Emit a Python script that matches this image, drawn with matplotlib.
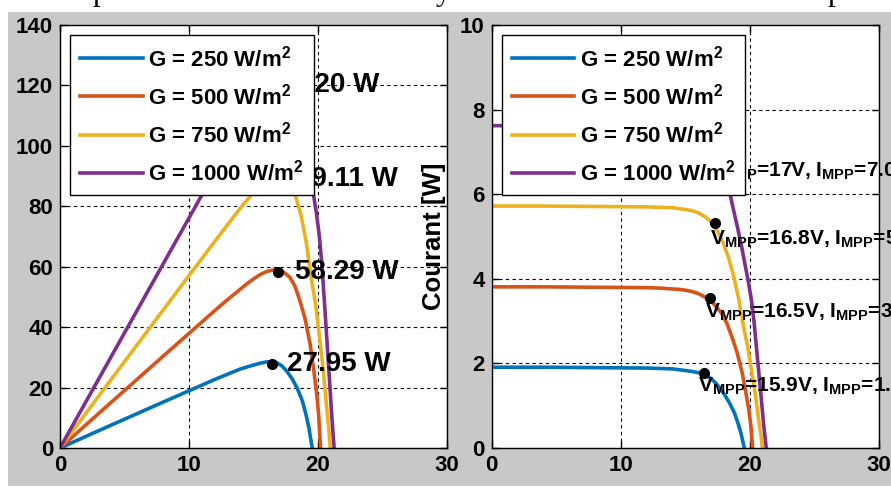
import matplotlib
matplotlib.use("Agg")
import matplotlib.pyplot as plt
from matplotlib.patches import Rectangle

plt.rcParams["font.family"] = ["Liberation Sans", "DejaVu Sans"]
plt.rcParams["font.weight"] = "bold"
plt.rcParams["mathtext.fontset"] = "custom"
plt.rcParams["mathtext.rm"] = "Liberation Sans:bold"
plt.rcParams["mathtext.bf"] = "Liberation Sans:bold"
plt.rcParams["mathtext.it"] = "Liberation Sans:bold"

# I-V / P-V curves
V_250 = [0, 4, 8, 12, 13, 14, 14.5, 15, 15.5, 16, 16.4, 16.8, 17.2, 17.6, 18.0, 18.4, 18.8, 19.1, 19.3, 19.55]
I_250 = [1.91, 1.91, 1.90, 1.89, 1.88, 1.87, 1.85, 1.83, 1.81, 1.78, 1.74, 1.68, 1.58, 1.44, 1.27, 1.07, 0.82, 0.55, 0.34, 0.0]
P_250 = [0, 7.64, 15.20, 22.68, 24.44, 26.18, 26.83, 27.45, 28.06, 28.48, 28.54, 28.22, 27.18, 25.34, 22.86, 19.69, 15.42, 10.51, 6.56, 0]

V_500 = [0, 4, 8, 12, 13, 14, 14.5, 15, 15.5, 16, 16.5, 16.9, 17.3, 17.8, 18.2, 18.6, 19.0, 19.4, 19.7, 19.9, 20.05, 20.2]
I_500 = [3.81, 3.81, 3.80, 3.79, 3.78, 3.76, 3.75, 3.73, 3.70, 3.65, 3.57, 3.50, 3.37, 3.18, 2.95, 2.62, 2.25, 1.76, 1.26, 0.90, 0.55, 0.0]
P_500 = [0, 15.24, 30.40, 45.48, 49.14, 52.64, 54.38, 55.95, 57.35, 58.40, 58.91, 59.15, 58.30, 56.60, 53.69, 48.73, 42.75, 34.14, 24.82, 17.91, 11.03, 0]

V_750 = [0, 4, 8, 12, 13, 14, 14.5, 15, 15.5, 16, 16.5, 17, 17.5, 17.9, 18.3, 18.7, 19.1, 19.5, 19.8, 20.1, 20.4, 20.65, 20.85, 20.95]
I_750 = [5.72, 5.72, 5.71, 5.70, 5.69, 5.68, 5.66, 5.64, 5.61, 5.56, 5.47, 5.34, 5.12, 4.86, 4.53, 4.10, 3.55, 2.85, 2.42, 1.86, 1.28, 0.70, 0.28, 0.0]
P_750 = [0, 22.88, 45.68, 68.40, 73.97, 79.52, 82.07, 84.60, 86.96, 88.96, 90.26, 90.78, 89.60, 86.99, 82.90, 76.67, 67.81, 55.58, 47.92, 37.39, 26.11, 14.46, 5.84, 0]

V_1000 = [0, 4, 8, 12, 13, 14, 14.5, 15, 15.5, 16, 16.5, 17, 17.5, 18.0, 18.45, 18.7, 19.0, 19.35, 19.6, 19.87, 20.1, 20.3, 20.5, 20.7, 20.9, 21.05, 21.25]
I_1000 = [7.62, 7.62, 7.62, 7.61, 7.60, 7.59, 7.57, 7.55, 7.51, 7.45, 7.36, 7.20, 6.95, 6.55, 6.00, 5.65, 5.25, 4.75, 4.35, 3.92, 3.50, 3.00, 2.35, 1.70, 1.05, 0.55, 0.0]
P_1000 = [0, 30.48, 60.96, 91.32, 98.80, 106.26, 109.77, 113.25, 116.41, 119.20, 121.44, 122.40, 121.63, 117.90, 110.70, 105.66, 99.75, 91.91, 85.26, 77.89, 70.35, 60.90, 48.18, 35.19, 21.95, 11.58, 0]

labels = ["G = 250 W/m$^2$", "G = 500 W/m$^2$", "G = 750 W/m$^2$", "G = 1000 W/m$^2$"]
colors = ["#0072BD", "#D95319", "#EDB120", "#7E2F8E"]

# maximum power points
v_dot = [16.4, 16.9, 17.3, 17.0]
p_dot = [27.95, 58.29, 89.11, 120.0]
i_dot = [1.78, 3.55, 5.32, 7.06]
p_text = ["27.95 W", "58.29 W", "89.11 W", "120 W"]
p_text_x = [17.6, 18.2, 18.3, 18.5]
mpp_text = ["V$_{MPP}$=15.9V, I$_{MPP}$=1.76A", "V$_{MPP}$=16.5V, I$_{MPP}$=3.53A",
            "V$_{MPP}$=16.8V, I$_{MPP}$=5.30A", "V$_{MPP}$=17V, I$_{MPP}$=7.06A"]
mpp_text_x = [16.0, 16.5, 16.9, 16.9]
mpp_text_y = [1.70, 3.46, 5.19, 6.79]

fig = plt.figure(figsize=(8.91, 4.87), dpi=100, facecolor="white")
fig.patches.append(Rectangle((8 / 891, 1 / 487), 1, (487 - 12 - 1) / 487, transform=fig.transFigure,
                             facecolor="#c8c8c8", edgecolor="none", zorder=-10))
# cut-off descenders of the page text above the figure
for x, ch in [(100, "p"), (443, "y"), (835, "p")]:
    fig.text(x / 891, 1.0, ch, family="Liberation Serif", fontweight="normal", fontsize=22,
             ha="center", va="baseline")

ax1 = fig.add_axes([60 / 891, 39 / 487, 387 / 891, 423 / 487])
ax2 = fig.add_axes([491.7 / 891, 39 / 487, 387.6 / 891, 423 / 487])

curves_p = [(V_250, P_250), (V_500, P_500), (V_750, P_750), (V_1000, P_1000)]
curves_i = [(V_250, I_250), (V_500, I_500), (V_750, I_750), (V_1000, I_1000)]

for k in range(4):
    ax1.plot(curves_p[k][0], curves_p[k][1], color=colors[k], lw=2.6, label=labels[k])
    ax2.plot(curves_i[k][0], curves_i[k][1], color=colors[k], lw=2.6, label=labels[k])
    ax1.plot(v_dot[k], p_dot[k], "o", color="black", ms=7, zorder=4)
    ax2.plot(v_dot[k], i_dot[k], "o", color="black", ms=7, zorder=4)
    ax1.text(p_text_x[k], p_dot[k], p_text[k], fontsize=20, va="center", ha="left", zorder=3)
    ax2.text(mpp_text_x[k], mpp_text_y[k], mpp_text[k], fontsize=15, va="top", ha="left", zorder=3)

ax1.set_ylim(0, 140)
ax1.set_yticks(range(0, 141, 20))
ax2.set_ylim(0, 10)
ax2.set_yticks(range(0, 11, 2))

for ax in [ax1, ax2]:
    ax.set_xlim(0, 30)
    ax.set_xticks([0, 10, 20, 30])
    ax.grid(True, color="black", linestyle=(0, (3, 3)), lw=0.8)
    ax.tick_params(direction="in", top=True, right=True, length=5, width=1, labelsize=16, pad=5)
    for s in ax.spines.values():
        s.set_linewidth(1)
    leg = ax.legend(loc="upper left", bbox_to_anchor=(0.027, 0.976), borderaxespad=0, fontsize=16,
                    handlelength=2.8, handletextpad=0.25, labelspacing=0.55, borderpad=0.45,
                    framealpha=1, edgecolor="black", fancybox=False)
    leg.get_frame().set_linewidth(1)
    leg.set_zorder(10)

ax2.set_ylabel("Courant [W]", fontsize=18.5, fontweight="bold")
ax2.yaxis.set_label_coords(-0.117, 0.5)

plt.savefig("out.png", dpi=100, facecolor="white")
